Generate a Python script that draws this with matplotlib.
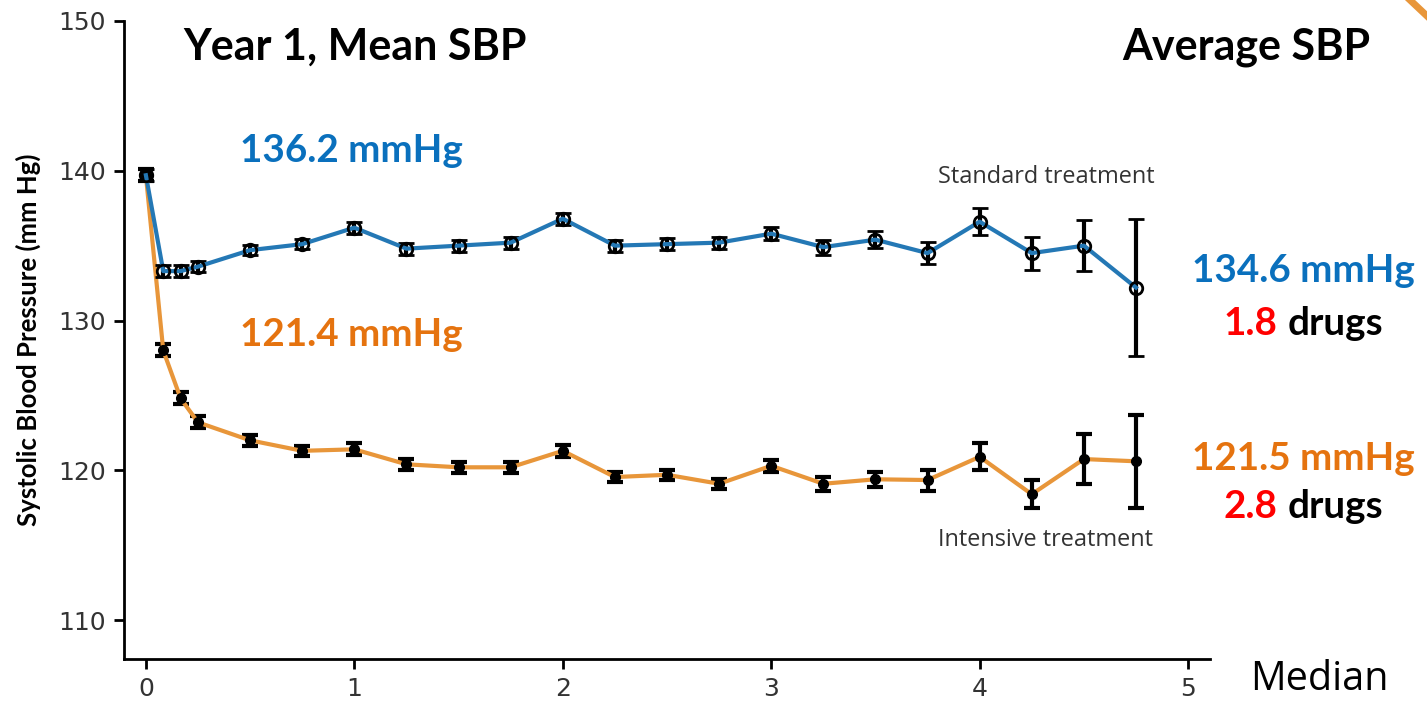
import numpy as np
import matplotlib
matplotlib.use("Agg")
from matplotlib import pyplot as plt

# years since randomization
years = [0, 1/12, 2/12, 0.25, 0.5, 0.75, 1.0, 1.25, 1.5, 1.75, 2.0, 2.25, 2.5,
         2.75, 3.0, 3.25, 3.5, 3.75, 4.0, 4.25, 4.5, 4.75]
standard = [139.7, 133.3, 133.3, 133.6, 134.7, 135.1, 136.2, 134.8, 135.0, 135.2,
            136.8, 135.0, 135.1, 135.2, 135.8, 134.9, 135.4, 134.5, 136.6, 134.5,
            135.0, 132.2]
standard_err = [0.4, 0.4, 0.4, 0.35, 0.35, 0.35, 0.4, 0.4, 0.4, 0.4, 0.4, 0.4,
                0.4, 0.4, 0.45, 0.5, 0.55, 0.75, 0.9, 1.1, 1.7, 4.6]
intensive = [139.7, 128.0, 124.8, 123.2, 122.0, 121.3, 121.4, 120.4, 120.2, 120.2,
             121.3, 119.55, 119.7, 119.1, 120.3, 119.1, 119.4, 119.35, 120.9, 118.4,
             120.75, 120.6]
intensive_err = [0.4, 0.4, 0.4, 0.4, 0.35, 0.35, 0.4, 0.35, 0.35, 0.35, 0.4, 0.35,
                 0.35, 0.35, 0.4, 0.45, 0.5, 0.7, 0.9, 0.95, 1.65, 3.1]
xticks = [0, 1, 2, 3, 4, 5]
yticks = [110, 120, 130, 140, 150]

BLUE_LINE = "#2478b5"
ORANGE_LINE = "#e8963a"
BLUE_TXT = "#0a70bd"
ORANGE_TXT = "#e5730f"
BIG = "Lato"

W, H = 1427, 701
fig = plt.figure(figsize=(W / 100, H / 100), dpi=100)
ax = fig.add_axes([124 / W, 1 - 659 / H, (1210 - 124) / W, (659 - 21) / H])

def px(x, y):
    return x / W, 1 - y / H

ax.errorbar(years, intensive, yerr=intensive_err, color=ORANGE_LINE, lw=3,
            marker='o', ms=7, mfc='k', mec='k', ecolor='k', elinewidth=3,
            capsize=6, capthick=3, zorder=2)
ax.errorbar(years, standard, yerr=standard_err, color=BLUE_LINE, lw=3,
            marker='o', ms=9, mfc='none', mec='k', mew=2, ecolor='k',
            elinewidth=3, capsize=6, capthick=3, zorder=3)

ax.set_xlim(-0.105, 5.105)
ax.set_ylim(107.4, 150)
ax.set_xticks(xticks)
ax.set_yticks(yticks)
for s in ['top', 'right']:
    ax.spines[s].set_visible(False)
for s in ['left', 'bottom']:
    ax.spines[s].set_linewidth(2)
ax.tick_params(direction='out', length=7, width=2, labelsize=18,
               labelcolor='#333333', pad=6)

fig.text(*px(28, 340), "Systolic Blood Pressure (mm Hg)", rotation=90,
         ha='center', va='center', fontsize=18.5, fontweight='bold',
         family=BIG)

fig.text(*px(183, 47), "Year 1, Mean SBP", ha='left', va='center',
         fontsize=31, fontweight='bold', family=BIG)
fig.text(*px(1370, 47), "Average SBP", ha='right', va='center',
         fontsize=31, fontweight='bold', family=BIG)
fig.text(*px(240, 150), "136.2 mmHg", ha='left', va='center',
         fontsize=27.8, fontweight='bold', color=BLUE_TXT, family=BIG)
fig.text(*px(240, 335), "121.4 mmHg", ha='left', va='center',
         fontsize=27.8, fontweight='bold', color=ORANGE_TXT, family=BIG)
fig.text(*px(1415, 271), "134.6 mmHg", ha='right', va='center',
         fontsize=27.8, fontweight='bold', color=BLUE_TXT, family=BIG)
fig.text(*px(1415, 458), "121.5 mmHg", ha='right', va='center',
         fontsize=27.8, fontweight='bold', color=ORANGE_TXT, family=BIG)
for yy, n in [(323, "1.8"), (507, "2.8")]:
    fig.text(*px(1288, yy), "drugs", ha='left', va='center',
             fontsize=27.8, fontweight='bold', color='k', family=BIG)
    fig.text(*px(1277, yy), n, ha='right', va='center',
             fontsize=27.8, fontweight='bold', color='#ff0000', family=BIG)

fig.text(*px(1046, 177), "Standard treatment", ha='center', va='center',
         fontsize=16.9, color='#333333', family='Open Sans')
fig.text(*px(1046, 540), "Intensive treatment", ha='center', va='center',
         fontsize=16.9, color='#333333', family='Open Sans')
fig.text(*px(1319, 680), "Median", ha='center', va='center',
         fontsize=28.5, color='k', family='Open Sans')

# orange corner accent
fig.add_artist(plt.Line2D([1410 / W, 1427 / W], [1, 1 - 16 / H],
                          color=ORANGE_LINE, lw=5, transform=fig.transFigure))

fig.savefig("out.png", dpi=100)
